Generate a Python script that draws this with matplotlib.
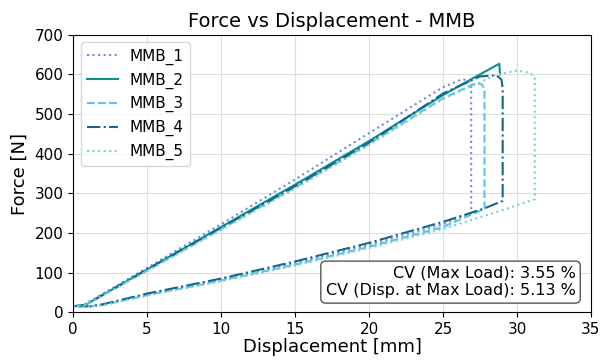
"""Force vs displacement curves for the MMB specimens."""

import matplotlib
matplotlib.use("Agg")
import matplotlib.pyplot as plt

# Loading branch, peak, drop and unloading branch for each specimen
mmb1_disp = [0, 0.7, 5, 10, 15, 20, 25, 26.3, 26.7, 26.9, 26.9, 25, 20, 15, 10, 5, 2, 1.2, 0]
mmb1_force = [15, 18, 112, 222, 335, 452, 568, 588, 585, 572, 250, 222, 170, 124, 82, 45, 19, 15, 15]

mmb2_disp = [0, 0.8, 5, 10, 15, 20, 25, 27, 28.8, 28.85]
mmb2_force = [15, 18, 108, 215, 322, 432, 548, 590, 627, 600]

mmb3_disp = [0, 0.8, 5, 10, 15, 20, 25, 27.2, 27.6, 27.8, 27.8, 25, 20, 15, 10, 5, 2, 1.2, 0]
mmb3_force = [15, 18, 105, 210, 315, 425, 540, 578, 575, 565, 261, 215, 165, 120, 80, 43, 18, 15, 15]

mmb4_disp = [0, 0.8, 5, 10, 15, 20, 25, 27.5, 28.6, 28.95, 29.03, 29.03, 27.8, 25, 20, 15, 10, 5, 2, 1.2, 0]
mmb4_force = [15, 18, 108, 213, 318, 428, 552, 595, 598, 587, 565, 281, 262, 228, 175, 128, 85, 47, 20, 15, 15]

mmb5_disp = [0, 0.8, 5, 10, 15, 20, 25, 27.5, 28.5, 30, 30.9, 31.2, 31.2, 28.8, 25, 20, 15, 10, 5, 2, 1.2, 0]
mmb5_force = [15, 18, 104, 208, 312, 422, 538, 580, 598, 610, 604, 590, 285, 255, 210, 162, 118, 78, 42, 18, 15, 15]

labels = ["MMB_1", "MMB_2", "MMB_3", "MMB_4", "MMB_5"]
cv_max_load = 3.55
cv_disp_max_load = 5.13


def main() -> None:
    series = [
        (mmb1_disp, mmb1_force, ":", "#6a8cdc"),
        (mmb2_disp, mmb2_force, "-", "#0d8e8c"),
        (mmb3_disp, mmb3_force, "--", "#5cc3ea"),
        (mmb4_disp, mmb4_force, "-.", "#17648f"),
        (mmb5_disp, mmb5_force, ":", "#76d3cb"),
    ]

    fig = plt.figure(figsize=(6.0, 3.63), dpi=100)
    ax = fig.add_axes([0.122, 0.14, 0.863, 0.764])

    for (x, y, ls, color), label in zip(series, labels):
        ax.plot(x, y, linestyle=ls, color=color, linewidth=1.5, label=label)

    ax.set_xlim(0, 35)
    ax.set_ylim(0, 700)
    ax.set_xticks(range(0, 36, 5))
    ax.set_yticks(range(0, 701, 100))
    ax.tick_params(labelsize=11)
    ax.grid(True, color="#dddddd", linewidth=0.8)
    ax.set_axisbelow(True)

    ax.set_title("Force vs Displacement - MMB", fontsize=14)
    ax.set_xlabel("Displacement [mm]", fontsize=13, labelpad=1)
    ax.set_ylabel("Force [N]", fontsize=13)

    ax.legend(loc="upper left", fontsize=11, handlelength=2.0, labelspacing=0.5)

    ax.text(
        0.97, 0.05,
        f"CV (Max Load): {cv_max_load:.2f} %\nCV (Disp. at Max Load): {cv_disp_max_load:.2f} %",
        transform=ax.transAxes, ha="right", va="bottom", fontsize=11.5,
        multialignment="right",
        bbox=dict(boxstyle="round,pad=0.3", facecolor="white", edgecolor="#555555"),
    )

    fig.savefig("out.png", dpi=100)
    plt.close(fig)


if __name__ == "__main__":
    main()
